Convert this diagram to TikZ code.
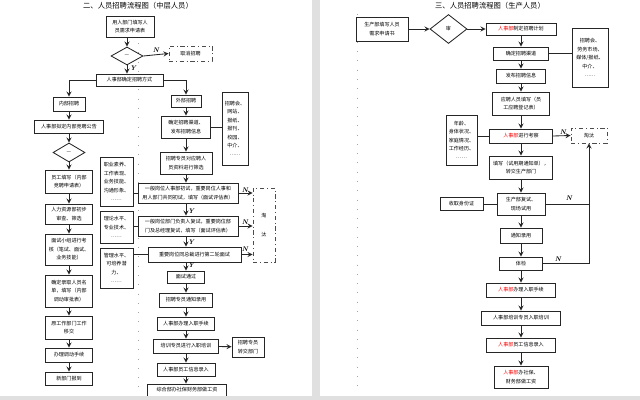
\documentclass[tikz,border=0pt]{standalone}
\usepackage{fontspec}
\newfontfamily\cjk{Noto Sans CJK SC}
\usepackage{xcolor}
\usepackage{tikz}
\usetikzlibrary{positioning,calc,shapes.geometric}
\newcommand{\rsb}{\textcolor{red}{人事部}}

\begin{document}
\begin{tikzpicture}[x=0.025cm,y=-0.025cm,
	box/.style={draw=black!85,line width=0.6pt,fill=white,inner sep=0pt,align=center,font=\cjk\fontsize{3.6}{6}\selectfont},
	sz/.style 2 args={minimum width=#1*0.025cm,minimum height=#2*0.025cm},
	cut/.style={box,dash dot,draw=black!70},
	dia/.style={box,diamond},
	lbl/.style={font=\bfseries\itshape\fontsize{4.8}{5}\selectfont,inner sep=0pt},
	ttl/.style={font=\cjk\fontsize{5.2}{6}\selectfont,inner sep=0pt},
	line/.style={draw=black!85,line width=0.6pt},
	arr/.style={line,-stealth},
	dots/.style={gray!70,line width=0.6pt,dash pattern=on 0.6pt off 6pt}]
		\useasboundingbox (0,0) rectangle (640,400);
		\draw[dots] (138,43)--(138,392);
		\draw[dots] (357,14)--(357,392);
		
		\node[ttl] (t1) at (138,6) {二、人员招聘流程图（中层人员）};
		\node[box,sz={48}{21}] (req) at (130,26.5) {用人部门填写人\\员需求申请表};
		\node[dia,sz={32}{18}] (d1) at (127,56) {—};
		\node[cut,sz={43}{15}] (cancel) at (190.5,53.5) {取消招聘};
		\node[box,sz={67}{12}] (way) at (129.5,80) {人事部确定招聘方式};
		\node[lbl] (n1) at (156,50) {N};
		\node[lbl] (y1) at (133,68) {Y};
		
		\node[box,sz={32}{14}] (inner) at (69,104) {内部招聘};
		\node[box,sz={69}{13}] (notice) at (69,126.5) {人事部拟定内部竞聘公告};
		\node[dia,sz={32}{19}] (d2) at (69,152.5) {—};
		\node[box,sz={47}{23}] (apply) at (69,181.5) {员工填写（内部\\竞聘申请表）};
		\node[box,sz={47}{20}] (sift) at (69,214) {人力资源部初步\\审查、筛选};
		\node[box,sz={47}{31}] (exam) at (69,249.5) {面试小组进行考\\核（笔试、面试、\\业务技能）};
		\node[box,sz={47}{32}] (pick) at (69,291) {确定录取人员名\\单，填写（内部\\调动审批表）};
		\node[box,sz={47}{23}] (hand) at (69,327.5) {原工作部门工作\\移交};
		\node[box,sz={47}{14}] (move) at (69,355) {办理调动手续};
		\node[box,sz={47}{13}] (arrive) at (69,378.5) {新部门报到};
		
		\node[box,sz={33}{49}] (q1) at (116.5,181.5) {职业素养、\\工作表现、\\业务技能、\\沟通形象、\\……};
		\node[box,sz={33}{32}] (q2) at (116.5,227) {理论水平、\\专业技术、\\……};
		\node[box,sz={33}{40}] (q3) at (116.5,268) {管理水平、\\可培养潜\\力、\\……};
		
		\node[box,sz={30}{12}] (outer) at (186,101) {外部招聘};
		\node[box,sz={49}{22}] (chan) at (186,127) {确定招聘渠道、\\发布招聘信息};
		\node[box,sz={26}{73}] (src) at (235,128.5) {招聘会、\\网站、\\报纸、\\报刊、\\校园、\\中介、\\……};
		\node[box,sz={52}{22}] (filt) at (186,163) {招聘专员对应聘人\\员资料进行筛选};
		\node[box,sz={100}{20}] (int1) at (188,193) {一般岗位人事部初试，重要岗位人事和\\用人部门共同初试，填写（面试评估表）};
		\node[box,sz={100}{20}] (int2) at (188,226) {一般岗位部门负责人复试，重要岗位部\\门及总经理复试，填写（面试评估表）};
		\node[box,sz={93}{15}] (int3) at (194.5,254.5) {重要岗位同总裁进行第二轮面试};
		\node[cut,sz={22}{74}] (out1) at (264,225) {淘\\[8pt]汰};
		\node[lbl] (n2) at (245,190) {N};
		\node[lbl] (n3) at (245,222) {N};
		\node[lbl] (n4) at (245,249) {N};
		\node[lbl] (y2) at (191,211) {Y};
		\node[lbl] (y3) at (191,242) {Y};
		\node[lbl] (y4) at (191,265) {Y};
		\node[box,sz={37}{12}] (pass) at (186,277) {面试通过};
		\node[box,sz={53}{14}] (tell) at (186,300) {招聘专员通知录用};
		\node[box,sz={57}{13}] (join) at (186,323.5) {人事部办理入职手续};
		\node[box,sz={65}{14}] (train) at (186,346) {培训专员进行入职培训};
		\node[box,sz={32}{20}] (give) at (248,347) {招聘专员\\转交部门};
		\node[box,sz={58}{13}] (info) at (186,369.5) {人事部员工信息录入};
		\node[box,sz={79}{12}] (pay) at (187,390) {综合部办社保财务部做工资};
		
		\draw[arr] (req.south -| d1) -- (d1.north);
		\draw[arr] (d1.east) -- (cancel.west);
		\draw[arr] (d1.south) -- (d1.south |- way.north);
		\draw[arr] (way.west) -| (inner.north);
		\draw[arr] (way.east) -| (outer.north);
		\draw[arr] (inner) -- (notice);
		\draw[arr] (notice) -- (d2);
		\draw[arr] (d2) -- (apply);
		\draw[arr] (apply) -- (sift);
		\draw[arr] (sift) -- (exam);
		\draw[arr] (exam) -- (pick);
		\draw[arr] (pick) -- (hand);
		\draw[arr] (hand) -- (move);
		\draw[arr] (move) -- (arrive);
		\draw[arr] (outer) -- (chan);
		\draw[line] (chan.east) -- (chan.east -| src.west);
		\draw[arr] (chan) -- (filt);
		\draw[arr] (filt) -- (filt |- int1.north);
		\draw[arr] (int1.south -| filt) -- (filt |- int2.north);
		\draw[arr] (int2.south -| filt) -- (filt |- int3.north);
		\draw[arr] (int3.south -| filt) -- (pass);
		\draw[line] (int1.west) -- (int1.west -| q1.east);
		\draw[line] (int2.west) -- (int2.west -| q2.east);
		\draw[line] (int3.west) -- (int3.west -| q3.east);
		\draw[arr] (int1.east) -- (int1.east -| out1.west);
		\draw[arr] (int2.east) -- (int2.east -| out1.west);
		\draw[arr] (int3.east) -- (int3.east -| out1.west);
		\draw[arr] (pass) -- (tell);
		\draw[arr] (tell) -- (join);
		\draw[arr] (join) -- (train);
		\draw[arr] (train) -- (give);
		\draw[arr] (train) -- (info);
		\draw[arr] (info) -- (pay.north -| info);
		
		\node[ttl] (t2) at (490,6) {三、人员招聘流程图（生产人员）};
		\node[box,sz={52}{24}] (req2) at (382,29) {生产部填写人员\\需求申请书};
		\node[dia,sz={37}{29}] (d3) at (448.5,29) {审};
		\node[box,sz={70}{12}] (plan) at (521,29) {\rsb 制定招聘计划};
		\node[box,sz={55}{13}] (chan2) at (521,53.5) {确定招聘渠道};
		\node[box,sz={36}{59}] (src2) at (590,57.5) {招聘会、\\劳务市场、\\媒体/报纸、\\中介、\\……};
		\node[box,sz={49}{14}] (pub) at (521,76) {发布招聘信息};
		\node[box,sz={57}{23}] (form) at (521,103.5) {应聘人员填写（员\\工应聘登记表）};
		\node[box,sz={63}{14}] (look) at (521,136) {\rsb 进行考察};
		\node[box,sz={31}{50}] (cond) at (461.5,140) {年龄、\\身体状况、\\家庭情况、\\工作经历、\\……};
		\node[cut,sz={36}{15}] (out2) at (589,135.5) {淘汰};
		\node[lbl] (n5) at (563,132) {N};
		\node[box,sz={63}{23}] (trial) at (521,167.5) {填写（试用期通知单），\\转交生产部门};
		\node[box,sz={48}{22}] (retest) at (521,204) {生产部复试、\\现场试用};
		\node[box,sz={43}{13}] (idc) at (461.5,204) {收取身份证};
		\node[lbl] (n6) at (569,198) {N};
		\node[box,sz={42}{15}] (admit) at (521,235.5) {通知录用};
		\node[box,sz={43}{13}] (body) at (521,263.5) {体检};
		\node[lbl] (n7) at (558,259) {N};
		\node[box,sz={69}{14}] (join2) at (521,290) {\rsb 办理入职手续};
		\node[box,sz={79}{14}] (train2) at (521,318) {人事部培训专员入职培训};
		\node[box,sz={69}{14}] (info2) at (521,345) {\rsb 员工信息录入};
		\node[box,sz={54}{22}] (pay2) at (521,377) {\rsb 办社保、\\财务部做工资};
		
		\draw[arr] (req2.east) -- (d3.west);
		\draw[arr] (d3.east) -- (plan.west);
		\draw[arr] (plan) -- (chan2);
		\draw[line] (chan2.east) -- (chan2.east -| src2.west);
		\draw[arr] (chan2) -- (pub);
		\draw[arr] (pub) -- (form);
		\draw[arr] (form) -- (look);
		\draw[line] (look.west) -- (look.west -| cond.east);
		\draw[arr] (look.east) -- (out2.west);
		\draw[arr] (look) -- (trial);
		\draw[arr] (trial) -- (retest);
		\draw[line] (retest.west) -- (idc.east);
		\draw[line] (retest.east) -- (retest.east -| out2.south);
		\draw[arr] (retest) -- (admit);
		\draw[arr] (admit) -- (body);
		\draw[arr] (body.east) -| (out2.south);
		\draw[arr] (body) -- (join2);
		\draw[arr] (join2) -- (train2);
		\draw[arr] (train2) -- (info2);
		\draw[arr] (info2) -- (pay2);
		
		\fill[black!12] (312,0) rectangle (320,400);
		\fill[black!12] (0,396) rectangle (640,400);
	\end{tikzpicture}
\end{document}
